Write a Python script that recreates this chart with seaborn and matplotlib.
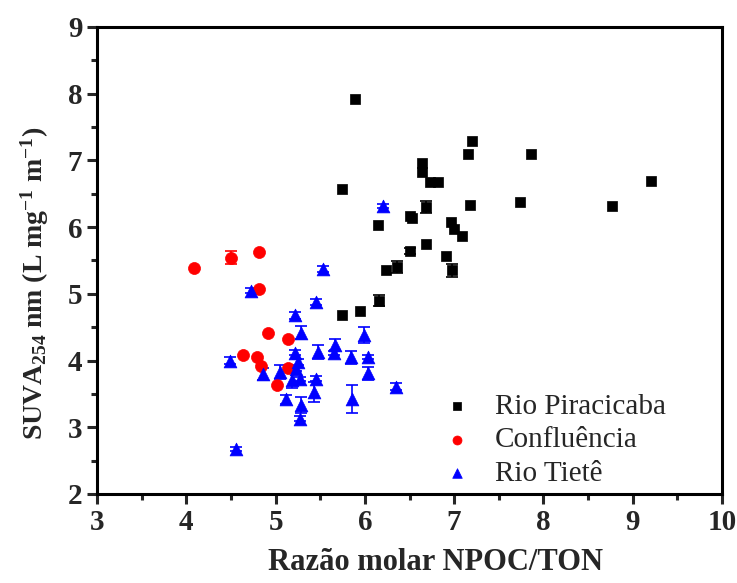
import matplotlib
matplotlib.use("Agg")
import matplotlib.pyplot as plt
import numpy as np
import pandas as pd
import seaborn as sns
from matplotlib.ticker import MultipleLocator

# Rio Piracicaba
pir_x = [5.89, 5.74, 7.20, 7.15, 7.86, 9.21, 7.74, 8.77, 7.18, 6.64, 6.64, 6.73, 6.82,
         6.69, 6.51, 6.53, 6.97, 7.00, 7.09, 6.15, 6.68, 6.50, 6.91, 6.98, 6.24, 6.36,
         6.16, 5.95, 5.74]
pir_y = [7.92, 6.57, 7.29, 7.10, 7.10, 6.69, 6.37, 6.31, 6.33, 6.96, 6.83, 6.67, 6.68,
         6.30, 6.16, 6.13, 6.08, 5.97, 5.87, 6.03, 5.74, 5.64, 5.57, 5.35, 5.36, 5.40,
         4.90, 4.75, 4.68]
pir_err = [0, 0, 0, 0, 0, 0, 0, 0, 0, 0, 0, 0, 0,
           0.09, 0, 0, 0, 0, 0, 0, 0, 0.04, 0, 0.10, 0, 0.09,
           0.08, 0, 0]

# Confluência
con_x = [4.09, 4.50, 4.81, 4.81, 4.92, 5.14, 4.64, 4.79, 4.84, 5.14, 5.02]
con_y = [5.39, 5.54, 5.63, 5.08, 4.41, 4.32, 4.08, 4.06, 3.92, 3.89, 3.64]
con_err = [0, 0.10, 0, 0, 0, 0, 0, 0, 0, 0, 0]

# Rio Tietê
tie_x = [4.49, 4.72, 4.56, 5.53, 6.20, 5.45, 5.22, 5.29, 5.22, 5.25, 5.23, 5.48,
         5.66, 5.65, 5.85, 5.99, 6.04, 6.03, 6.35, 5.86, 5.45, 5.43, 4.86, 5.05,
         5.18, 5.27, 5.12, 5.29, 5.27]
tie_y = [4.00, 5.05, 2.68, 5.37, 6.32, 4.88, 4.68, 4.42, 4.12, 3.98, 3.88, 4.13,
         4.24, 4.11, 4.05, 4.38, 4.06, 3.81, 3.61, 3.43, 3.73, 3.53, 3.80, 3.83,
         3.71, 3.73, 3.42, 3.34, 3.13]
tie_err = [0.05, 0.04, 0.03, 0.04, 0.03, 0.05, 0.05, 0.10, 0.04, 0.04, 0.04, 0.10,
           0.08, 0.03, 0.10, 0.12, 0.03, 0.10, 0.05, 0.21, 0.04, 0.15, 0.09, 0.10,
           0.12, 0.03, 0.07, 0.12, 0.04]

groups = ["Rio Piracicaba", "Confluência", "Rio Tietê"]
colors = {"Rio Piracicaba": "black", "Confluência": "red", "Rio Tietê": "blue"}
markers = {"Rio Piracicaba": "s", "Confluência": "o", "Rio Tietê": "^"}
sizes = {"Rio Piracicaba": 60, "Confluência": 75, "Rio Tietê": 85}

df = pd.concat([
    pd.DataFrame({"x": pir_x, "y": pir_y, "err": pir_err, "grupo": groups[0]}),
    pd.DataFrame({"x": con_x, "y": con_y, "err": con_err, "grupo": groups[1]}),
    pd.DataFrame({"x": tie_x, "y": tie_y, "err": tie_err, "grupo": groups[2]}),
], ignore_index=True)

sns.set_style("ticks")
plt.rcParams.update({
    "font.family": ["Liberation Serif", "DejaVu Serif"],
    "mathtext.fontset": "custom",
    "mathtext.rm": "Liberation Serif:bold",
    "mathtext.it": "Liberation Serif:bold",
    "mathtext.bf": "Liberation Serif:bold",
    "mathtext.default": "rm",
})

fig = plt.figure(figsize=(7.37, 5.83), dpi=100)
ax = fig.add_axes([0.1316, 0.1527, 0.8481, 0.801])

for g in groups:
    sub = df[df["grupo"] == g]
    e = sub[sub["err"] > 0]
    ax.errorbar(e["x"], e["y"], yerr=e["err"], fmt="none", ecolor=colors[g],
                elinewidth=1.2, capsize=4, capthick=1.2, zorder=2)
    sns.scatterplot(data=sub, x="x", y="y", ax=ax, color=colors[g], marker=markers[g],
                    s=sizes[g], edgecolor=colors[g], linewidth=0.5, label=g, zorder=3)

ax.set_xlim(3, 10)
ax.set_ylim(2, 9)
ax.xaxis.set_major_locator(MultipleLocator(1))
ax.xaxis.set_minor_locator(MultipleLocator(0.5))
ax.yaxis.set_major_locator(MultipleLocator(1))
ax.yaxis.set_minor_locator(MultipleLocator(0.5))
ax.tick_params(which="major", direction="out", length=7, width=2.2,
               labelsize=21, top=False, right=False)
ax.tick_params(which="minor", direction="out", length=4, width=2.2, top=False, right=False)
for lab in ax.get_xticklabels() + ax.get_yticklabels():
    lab.set_fontweight("bold")
for sp in ax.spines.values():
    sp.set_visible(True)
    sp.set_linewidth(2.2)
    sp.set_color("black")

ax.set_xlabel("Razão molar NPOC/TON", fontsize=22, fontweight="bold", va="top")
ax.xaxis.set_label_coords(0.542, -0.115)
ax.set_ylabel("SUVA$_{254}$ nm (L mg$^{-1}$ m$^{-1}$)", fontsize=20, fontweight="bold")
ax.yaxis.set_label_coords(-0.074, 0.45)

leg = ax.legend(loc="lower right", bbox_to_anchor=(0.91, 0.015), frameon=False,
                fontsize=21, handlelength=1.2, handletextpad=0.7, labelspacing=0.25,
                borderaxespad=0, borderpad=0, markerscale=0.75)

fig.savefig("out.png", dpi=100)
